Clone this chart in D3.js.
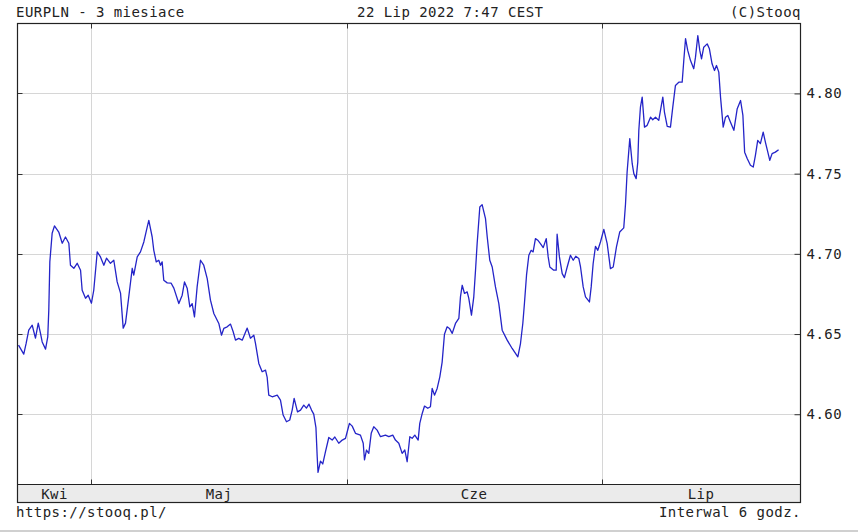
<!DOCTYPE html>
<html>
<head>
<meta charset="utf-8">
<script src="https://cdn.jsdelivr.net/npm/d3@7"></script>
<style>
  body { margin: 0; background: #fff; }
  text { font-family: "DejaVu Sans Mono", monospace; font-size: 14px; fill: #222; letter-spacing: 0.45px; }
</style>
</head>
<body>
<div id="chart"></div>
<script>
// EURPLN, 6h bars; x = trading days since first bar
var day = [0.09,0.54,0.75,0.97,1.27,1.55,1.79,1.98,2.13,2.42,2.61,2.70,2.79,2.99,3.19,3.56,3.86,4.14,4.43,4.57,
  4.86,5.15,5.44,5.58,5.87,6.10,6.38,6.58,6.88,7.16,7.45,7.68,8.02,8.31,8.60,8.89,9.12,9.32,9.60,9.90,
  10.03,10.33,10.61,10.90,11.19,11.33,11.62,11.76,11.97,12.19,12.34,12.48,12.62,12.92,13.26,13.49,13.92,14.21,14.41,14.64,
  14.87,15.07,15.27,15.50,15.79,16.07,16.37,16.65,16.94,17.37,17.60,17.80,18.09,18.38,18.61,18.81,19.09,19.39,19.82,20.10,
  20.39,20.53,20.82,21.11,21.40,21.54,21.68,21.98,22.41,22.69,22.92,23.21,23.49,23.70,23.87,24.16,24.42,24.70,24.93,25.15,
  25.37,25.56,25.75,25.86,25.93,26.14,26.34,26.57,26.86,27.15,27.38,27.72,28.02,28.30,28.45,28.64,28.88,29.16,29.59,29.83,
  29.94,30.11,30.31,30.52,30.74,31.03,31.32,31.75,32.04,32.38,32.61,32.90,33.19,33.42,33.62,33.85,34.05,34.28,34.57,34.71,
  34.92,35.12,35.40,35.63,35.78,35.98,36.21,36.44,36.64,36.84,37.07,37.27,37.51,37.79,38.08,38.22,38.37,38.57,38.80,38.94,
  39.17,39.37,39.52,39.66,39.89,40.09,40.38,40.53,40.75,40.96,41.24,41.53,41.82,42.25,42.68,43.17,43.40,43.60,43.74,43.92,
  44.12,44.32,44.49,44.69,44.89,45.12,45.36,45.62,45.79,45.93,46.27,46.48,46.56,46.76,47.00,47.19,47.43,47.71,47.95,48.17,
  48.43,48.58,48.81,49.01,49.35,49.50,49.67,49.87,50.07,50.30,50.59,50.88,51.16,51.40,51.68,51.96,52.31,52.46,52.60,52.83,
  53.04,53.18,53.38,53.52,53.61,53.75,53.90,54.10,54.33,54.62,54.81,55.05,55.33,55.48,55.68,55.82,56.06,56.34,56.54,56.77,
  57.06,57.35,57.49,57.64,57.83,58.07,58.35,58.50,58.70,58.87,59.02,59.21,59.51,59.70,59.93,60.14,60.31,60.51,60.66,60.89,
  61.09,61.29,61.52,61.81,62.10,62.39,62.59,62.74,62.97,63.24,63.48,63.67,63.87,64.10,64.34,64.53,64.74,64.91,65.11,65.39,
  65.67];
var rate = [4.6431,4.6375,4.6443,4.6524,4.6555,4.6474,4.6568,4.6506,4.6451,4.6406,4.6482,4.6649,4.6950,4.7128,4.7174,4.7136,4.7066,4.7105,4.7066,4.6929,
  4.6910,4.6941,4.6898,4.6773,4.6723,4.6742,4.6692,4.6773,4.7012,4.6981,4.6929,4.6973,4.6941,4.6960,4.6825,4.6755,4.6537,4.6568,4.6732,4.6910,
  4.6867,4.6981,4.7012,4.7074,4.7167,4.7209,4.7105,4.7022,4.6950,4.6960,4.6929,4.6950,4.6836,4.6819,4.6817,4.6786,4.6690,4.6742,4.6825,4.6786,
  4.6669,4.6690,4.6607,4.6794,4.6960,4.6929,4.6846,4.6711,4.6628,4.6566,4.6493,4.6535,4.6545,4.6562,4.6514,4.6462,4.6473,4.6462,4.6537,4.6474,
  4.6493,4.6443,4.6317,4.6265,4.6275,4.6232,4.6119,4.6109,4.6119,4.6088,4.5995,4.5953,4.5964,4.6026,4.6099,4.6015,4.6026,4.6057,4.6038,4.6063,
  4.6026,4.6001,4.5917,4.5735,4.5637,4.5708,4.5690,4.5765,4.5855,4.5839,4.5858,4.5819,4.5839,4.5850,4.5891,4.5943,4.5926,4.5881,4.5870,4.5819,
  4.5715,4.5777,4.5756,4.5881,4.5922,4.5901,4.5860,4.5870,4.5860,4.5870,4.5839,4.5819,4.5756,4.5777,4.5704,4.5860,4.5850,4.5870,4.5839,4.5943,
  4.6005,4.6051,4.6037,4.6047,4.6161,4.6119,4.6161,4.6233,4.6325,4.6499,4.6545,4.6535,4.6504,4.6566,4.6597,4.6732,4.6804,4.6753,4.6763,4.6722,
  4.6618,4.6732,4.6898,4.7064,4.7292,4.7307,4.7220,4.7105,4.6960,4.6918,4.6794,4.6690,4.6524,4.6462,4.6410,4.6358,4.6441,4.6566,4.6690,4.6867,
  4.6991,4.7022,4.7012,4.7095,4.7085,4.7064,4.7039,4.7095,4.6981,4.6918,4.6898,4.6898,4.7122,4.6981,4.6877,4.6852,4.6918,4.6991,4.6960,4.6985,
  4.6971,4.6918,4.6794,4.6732,4.6700,4.6794,4.6940,4.7047,4.7022,4.7074,4.7153,4.7064,4.6908,4.6918,4.7043,4.7136,4.7162,4.7309,4.7510,4.7718,
  4.7562,4.7500,4.7469,4.7572,4.7770,4.7915,4.7977,4.7790,4.7801,4.7852,4.7836,4.7852,4.7832,4.7894,4.7977,4.7884,4.7795,4.7790,4.7915,4.8050,
  4.8070,4.8070,4.8205,4.8341,4.8268,4.8205,4.8154,4.8226,4.8361,4.8268,4.8216,4.8288,4.8309,4.8278,4.8185,4.8143,4.8174,4.8133,4.7977,4.7790,
  4.7852,4.7863,4.7821,4.7770,4.7905,4.7956,4.7863,4.7634,4.7593,4.7552,4.7541,4.7614,4.7707,4.7687,4.7759,4.7697,4.7634,4.7583,4.7625,4.7634,
  4.7649];

var monthNames = ["Kwi", "Maj", "Cze", "Lip"];
var monthStart = [6.38, 28.39, 50.39];   // first bar of May, June, July
var yTicks = [4.60, 4.65, 4.70, 4.75, 4.80];

var W = 858, H = 532;
var pLeft = 17.5, pRight = 800.5, pTop = 23.5, pBottom = 484.5, bandBottom = 502.5;

var svg = d3.select("#chart").append("svg")
    .attr("width", W)
    .attr("height", H);

var x = d3.scaleLinear().domain([0, 67.56]).range([pLeft, pRight]);
var y = d3.scaleLinear().domain([4.5562, 4.8436]).range([pBottom, pTop]);

// grid
svg.append("g").selectAll("line")
    .data(yTicks).enter().append("line")
    .attr("x1", pLeft).attr("x2", pRight)
    .attr("y1", function(d) { return Math.round(y(d)) + 0.5; })
    .attr("y2", function(d) { return Math.round(y(d)) + 0.5; })
    .attr("stroke", "#d6d6d6");

svg.append("g").selectAll("line")
    .data(monthStart).enter().append("line")
    .attr("x1", function(d) { return Math.round(x(d)) + 0.5; })
    .attr("x2", function(d) { return Math.round(x(d)) + 0.5; })
    .attr("y1", pTop).attr("y2", pBottom)
    .attr("stroke", "#d6d6d6");

// month band
svg.append("rect")
    .attr("x", pLeft).attr("y", pBottom)
    .attr("width", pRight - pLeft).attr("height", bandBottom - pBottom)
    .attr("fill", "#ebebeb");

var edges = [0].concat(monthStart, [67.56]);
svg.append("g").selectAll("text")
    .data(monthNames).enter().append("text")
    .attr("x", function(d, i) { return (x(edges[i]) + x(edges[i + 1])) / 2; })
    .attr("y", 499)
    .attr("text-anchor", "middle")
    .text(function(d) { return d; });

// inward ticks
var tk = svg.append("g").attr("stroke", "#333");
monthStart.forEach(function(d) {
  var px = Math.round(x(d)) + 0.5;
  tk.append("line").attr("x1", px).attr("x2", px).attr("y1", pBottom).attr("y2", pBottom - 5);
  tk.append("line").attr("x1", px).attr("x2", px).attr("y1", pTop).attr("y2", pTop + 5);
});
yTicks.forEach(function(d) {
  var py = Math.round(y(d)) + 0.5;
  tk.append("line").attr("x1", pLeft).attr("x2", pLeft + 5).attr("y1", py).attr("y2", py);
});

// right axis
var yAxis = d3.axisRight(y)
    .tickValues(yTicks)
    .tickFormat(d3.format(".2f"))
    .tickSizeInner(-6)
    .tickSizeOuter(0)
    .tickPadding(6);

var ax = svg.append("g")
    .attr("transform", "translate(" + pRight + ",0)")
    .call(yAxis);
ax.select(".domain").remove();
ax.selectAll(".tick line").attr("stroke", "#333");
ax.selectAll(".tick text")
    .attr("fill", "#222")
    .style("font-family", '"DejaVu Sans Mono", monospace')
    .style("font-size", "14px");

// price line
var line = d3.line()
    .x(function(d, i) { return x(day[i]); })
    .y(function(d) { return y(d); });

svg.append("path")
    .datum(rate)
    .attr("d", line)
    .attr("fill", "none")
    .attr("stroke", "#2424c8")
    .attr("stroke-width", 1.3)
    .attr("stroke-linejoin", "round");

// frame
svg.append("rect")
    .attr("x", pLeft).attr("y", pTop)
    .attr("width", pRight - pLeft).attr("height", bandBottom - pTop)
    .attr("fill", "none")
    .attr("stroke", "#222")
    .attr("stroke-width", 1.2);
svg.append("line")
    .attr("x1", pLeft).attr("x2", pRight)
    .attr("y1", pBottom).attr("y2", pBottom)
    .attr("stroke", "#222")
    .attr("stroke-width", 1.2);

// header / footer
svg.append("text").attr("x", 16).attr("y", 17).text("EURPLN - 3 miesiace");
svg.append("text").attr("x", 357).attr("y", 17).text("22 Lip 2022 7:47 CEST");
svg.append("text").attr("x", 801).attr("y", 17).attr("text-anchor", "end").text("(C)Stooq");
svg.append("text").attr("x", 16).attr("y", 517).text("https://stooq.pl/");
svg.append("text").attr("x", 801).attr("y", 517).attr("text-anchor", "end").text("Interwal 6 godz.");

svg.append("rect")
    .attr("x", 0).attr("y", 530)
    .attr("width", W).attr("height", 2)
    .attr("fill", "#d0d0d0");
</script>
</body>
</html>
